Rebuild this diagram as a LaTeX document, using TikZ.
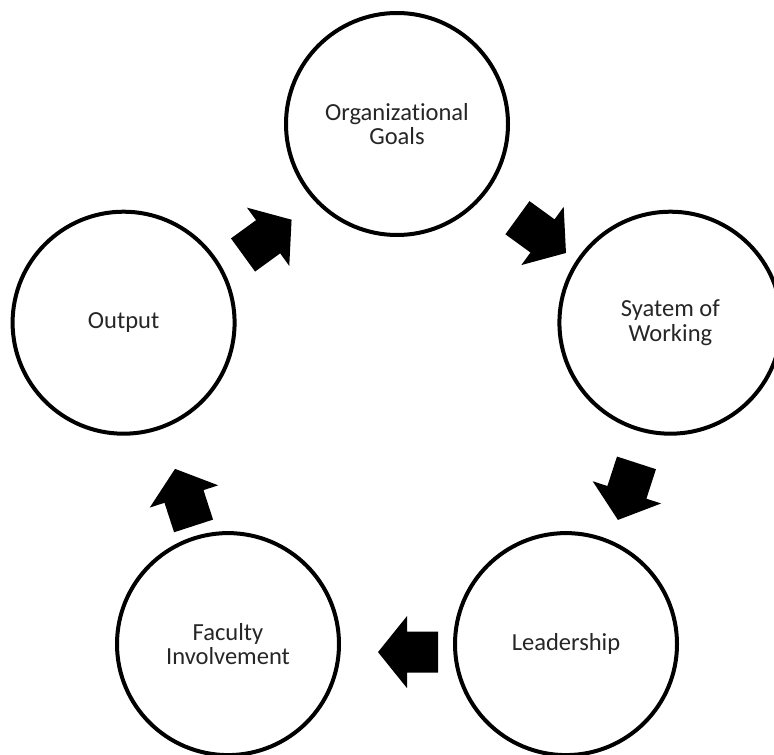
\documentclass[tikz,border=0pt]{standalone}
\usepackage{fontspec}
\setmainfont{Carlito}[Ligatures=NoCommon]
\usetikzlibrary{calc}

\begin{document}
\begin{tikzpicture}[x=0.75pt,y=-0.75pt,
		stage/.style={circle,draw,line width=3pt,minimum size=166.5pt,inner sep=0pt,align=center,text=black!85,font=\fontsize{18.4}{18.6}\selectfont},
		blockarrow/.pic={\fill (-30,-20.5) -- (1,-20.5) -- (1,-36) -- (30,0) -- (1,36) -- (1,20.5) -- (-30,20.5) -- cycle;}]
			\fill[white,use as bounding box] (0,0) rectangle (774,755);
			\clip (0,0) rectangle (774,755);
			% the five stages of the cycle
			\node[stage] (goals) at (397,124) {Organizational\\Goals};
			\node[stage] (work) at (670.4,322.7) {Syatem of\\Working};
			\node[stage] (lead) at (566,644.1) {Leadership};
			\node[stage] (faculty) at (228,644.1) {Faculty\\Involvement};
			\node[stage] (output) at (123.6,322.7) {Output};
			% arrows between them
			\pic[rotate=-36] at ($(goals)!0.5!(work)+(8,12)$) {blockarrow};
			\pic[rotate=-108] at ($(work)!0.5!(lead)+(9,8)$) {blockarrow};
			\pic[rotate=180] at ($(lead)!0.5!(faculty)+(11,8)$) {blockarrow};
			\pic[rotate=108] at ($(faculty)!0.5!(output)+(8.5,14)$) {blockarrow};
			\pic[rotate=36] at ($(output)!0.5!(goals)+(7,14)$) {blockarrow};
		\end{tikzpicture}
\end{document}
